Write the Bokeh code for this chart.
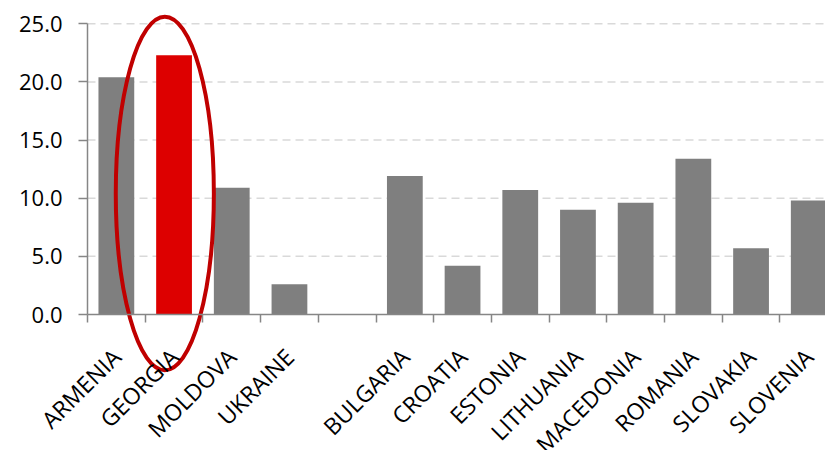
import math
from bokeh.plotting import figure
from bokeh.models import (Range1d, FixedTicker, LinearAxis, ColumnDataSource,
                          PrintfTickFormatter, Grid)
from bokeh.embed import file_html
from bokeh.resources import INLINE

# ---- data ----
countries = ["ARMENIA", "GEORGIA", "MOLDOVA", "UKRAINE", "",
             "BULGARIA", "CROATIA", "ESTONIA", "LITHUANIA", "MACEDONIA",
             "ROMANIA", "SLOVAKIA", "SLOVENIA"]
values = [20.4, 22.3, 10.9, 2.6, None,
          11.9, 4.2, 10.7, 9.0, 9.6,
          13.4, 5.7, 9.8]
highlight = "GEORGIA"
y_ticks = [0, 5, 10, 15, 20, 25]

GRAY = "#7F7F7F"
RED = "#DD0000"
FONT = "Open Sans"

# positions (slot centres) derived from the category order
xs, tops, colors = [], [], []
for i, (c, v) in enumerate(zip(countries, values)):
    if v is None:
        continue
    xs.append(i + 0.5)
    tops.append(v)
    colors.append(RED if c == highlight else GRAY)
src = ColumnDataSource(dict(x=xs, top=tops, color=colors))

n = len(countries)
W, H = 825, 450
slot_px = 57.7
axis_px = 87
px_per_unit = 11.63
zero_px = 314
x_start = -axis_px / slot_px
x_end = (W - axis_px) / slot_px
p = figure(frame_width=W, frame_height=H,
           x_range=Range1d(x_start, x_end),
           y_range=Range1d((zero_px - H) / px_per_unit, zero_px / px_per_unit),
           output_backend="svg", toolbar_location=None,
           x_axis_location=None, y_axis_location=None,
           min_border=0)
p.center = [r for r in p.center if not isinstance(r, Grid)]
p.renderers = [r for r in p.renderers if not isinstance(r, Grid)]
p.outline_line_color = None
p.background_fill_color = "white"
p.border_fill_color = "white"

# horizontal dashed grid lines from the axis to the right
gy = y_ticks[1:]
p.segment(x0=[0] * len(gy), x1=[x_end] * len(gy), y0=gy, y1=gy,
          line_color="#D9D9D9", line_dash="8 5", line_width=1.5)

# bars
p.vbar(x="x", top="top", width=0.62, bottom=0, color="color", line_color=None, source=src)

# ellipse around highlighted bar
gi = countries.index(highlight)
p.ellipse(x=gi + 0.5 - 0.16, y=10.4, width=1.70, height=30.4,
          fill_color=None, line_color="#C00000", line_width=4)

# y axis
yaxis = LinearAxis(ticker=FixedTicker(ticks=y_ticks),
                   formatter=PrintfTickFormatter(format="%.1f"),
                   bounds=(0, 25), fixed_location=0)
yaxis.axis_line_color = "#868686"
yaxis.axis_line_width = 1.5
yaxis.major_tick_line_color = "#868686"
yaxis.major_tick_line_width = 1.5
yaxis.major_tick_out = 9
yaxis.major_tick_in = 0
yaxis.minor_tick_line_color = None
yaxis.major_label_standoff = 16
yaxis.major_label_text_font = FONT
yaxis.major_label_text_font_size = "22px"
yaxis.major_label_text_color = "#000000"
p.add_layout(yaxis, "left")

# x axis
centers = [i + 0.5 for i, c in enumerate(countries) if c]
bounds_ticks = list(range(0, n))
overrides = {i + 0.5: c for i, c in enumerate(countries) if c}
xaxis = LinearAxis(ticker=FixedTicker(ticks=centers, minor_ticks=bounds_ticks),
                   fixed_location=0, bounds=(0, x_end))
xaxis.major_label_overrides = overrides
xaxis.major_label_orientation = math.pi / 4
xaxis.axis_line_color = "#868686"
xaxis.axis_line_width = 1.5
xaxis.major_tick_line_color = None
xaxis.major_tick_out = 0
xaxis.major_tick_in = 0
xaxis.minor_tick_line_color = "#868686"
xaxis.minor_tick_line_width = 1.5
xaxis.minor_tick_out = 8
xaxis.minor_tick_in = 0
xaxis.major_label_standoff = 30
xaxis.major_label_text_font = FONT
xaxis.major_label_text_font_size = "23px"
xaxis.major_label_text_color = "#000000"
p.add_layout(xaxis, "below")

open("out.html", "w").write(file_html(p, INLINE))
